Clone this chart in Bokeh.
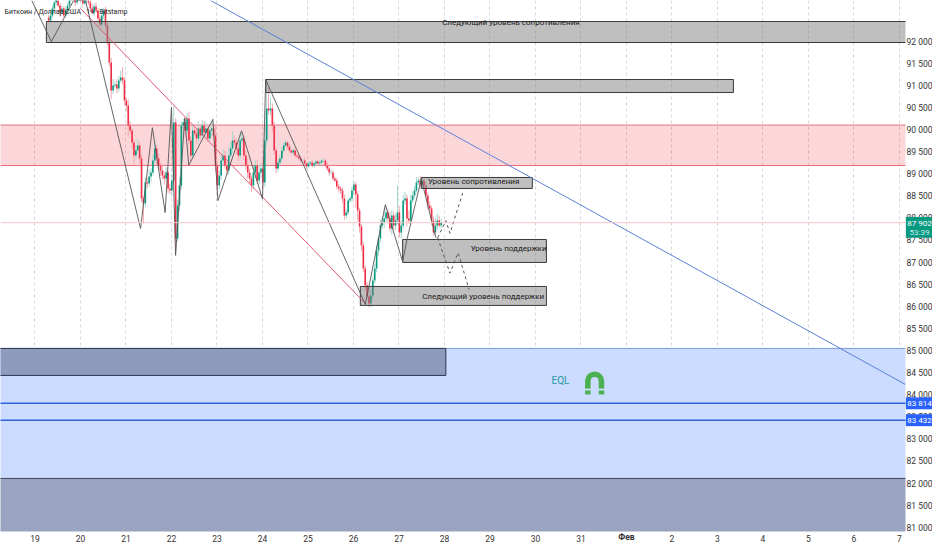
from bokeh.plotting import figure
from bokeh.layouts import column
from bokeh.models import ColumnDataSource, FixedTicker, Label, Span
from bokeh.core.properties import value
from bokeh.embed import file_html
from bokeh.resources import INLINE
import math

TITLE = "Биткоин / Доллар США · 1ч · Bitstamp"
FONT = "Roboto, sans-serif"

# hourly closes of BTC/USD, first bar 19.3 January
closes = [
 92475,92588,92746,92882,92972,92814,92656,92746,92588,92701,92814,93040,93108,93040,92882,92972,93063,92995,92859,92927,93017,92882,92746,92656,
 92791,92701,92520,92384,92588,92701,92362,91977,91525,90891,91004,91027,90936,91117,91185,91117,90665,90552,90100,89986,89715,89421,89534,89647,
 89353,88448,88335,88810,88787,88946,89036,89308,89579,89353,89195,89082,88969,88901,89036,88674,88629,88855,90167,87543,88290,88742,90100,90167,
 89986,90258,89760,89421,89986,89918,89805,90032,89873,90100,89941,90032,89805,89986,90032,89873,89195,88742,88969,89308,89421,89195,89082,89421,
 89579,89760,89715,89579,89421,89760,89805,89421,89195,89036,88901,88742,89036,89195,88855,89036,89127,88810,89760,90484,90439,90484,90100,89534,
 89127,89262,89353,89534,89647,89715,89624,89534,89489,89534,89421,89398,89353,89308,89308,89240,89172,89240,89262,89195,89240,89285,89240,89262,
 89308,89308,89195,89127,89036,89036,88901,88855,88720,88674,88629,88448,88064,88132,88403,88448,88629,88765,88539,88177,87815,87385,86865,86480,
 86232,86073,86254,86594,86865,87272,87543,87838,87905,87996,88131,87996,87769,88064,87838,87951,88131,87679,87838,88403,88448,87996,87951,88403,
 88516,88629,88810,88855,88765,88855,88742,88516,88290,88222,87951,87679,87838,87951,87838,87902,
]
upper_wicks = [
 60,90,70,40,50,80,60,70,50,90,60,70,50,80,60,70,60,90,40,80,50,70,60,90,
 70,100,60,80,120,60,90,70,60,100,150,80,120,100,160,240,90,70,140,100,60,80,120,150,
 70,80,60,120,90,150,100,130,170,80,110,70,150,90,120,60,110,130,380,90,140,180,100,90,
 110,120,160,100,150,110,90,170,80,130,100,150,90,120,170,100,220,90,110,130,150,120,100,180,
 140,210,110,90,120,190,150,80,110,160,90,70,140,120,130,170,110,200,330,630,480,240,120,90,
 70,60,80,90,60,50,40,60,40,50,60,40,40,50,40,60,40,50,40,60,40,50,40,50,
 60,40,50,60,80,60,50,40,60,50,60,70,90,70,60,50,90,80,60,70,60,50,80,60,
 70,140,160,90,110,120,80,140,130,220,120,60,150,110,90,150,610,140,100,120,150,90,180,130,
 90,110,120,70,100,90,60,80,70,90,60,90,180,160,110,90,
]
lower_wicks = [
 40,30,60,50,70,40,90,50,60,40,70,50,40,60,80,50,40,60,70,30,90,50,60,40,
 80,50,70,40,60,90,50,70,100,200,80,60,110,70,50,90,110,130,250,90,140,210,90,70,
 120,80,450,90,110,80,130,70,60,150,80,120,90,140,70,100,80,120,70,340,60,130,90,80,
 150,70,90,140,80,60,120,90,110,70,90,130,80,60,140,90,140,200,80,100,120,70,110,90,
 60,100,90,130,120,80,70,110,90,150,130,140,80,120,70,90,130,140,100,120,90,110,150,80,
 110,70,60,50,60,40,70,50,40,60,50,40,50,60,40,50,60,40,50,40,60,40,50,40,
 60,50,40,60,70,50,60,40,70,90,80,100,100,70,60,50,70,90,300,230,140,120,90,100,
 60,90,80,70,60,90,120,80,70,130,90,120,70,150,90,110,80,120,140,60,90,180,70,100,
 60,70,50,60,90,60,80,70,90,60,110,70,60,90,50,70,
]
first_bar_day = 19.3

# price axis and time axis
price_ticks = [81000 + 500 * k for k in range(23)]
day_ticks = [19,20,21,22,23,24,25,26,27,28,29,30,31,32,33,34,35,36,37,38]
day_labels = ["19","20","21","22","23","24","25","26","27","28","29","30","31","","2","3","4","5","6","7"]

# drawn zones: x from, x to, price top, price bottom
box_left  = [19.25, 24.07, 27.49, 27.08, 26.15]
box_right = [38.5,  34.35, 29.93, 30.24, 30.24]
box_top   = [92452, 91140, 88924, 87521, 86458]
box_bot   = [91978, 90846, 88675, 87001, 86029]
box_text  = ["Следующий уровень сопротивления", "", "Уровень сопротивления", "Уровень поддержки", "Следующий уровень поддержки"]
text_day  = [29.46, 0, 28.64, 29.41, 28.85]
text_price= [92430, 0, 88830, 87310, 86220]

red_zone = (90110, 89195)
blue_zone = (85056, 82115)
dark_low_zone = (82115, 80700)
dark_left_zone = (85056, 84445)
dark_left_end = 28.03
level_prices = [83814, 83432]
last_price = 87902
last_price_box = (88030, 87560)
last_price_text_y = [87883, 87680]
countdown = "53:39"
level_box_half = 135
tag_left, tag_right, tag_mid = 38.14, 38.725, 38.44

blue_line_d = [22.86, 38.13]; blue_line_p = [92927, 84241]
red_line_d = [20.0, 26.26]; red_line_p = [92746, 86073]
zig_d = [18.93,19.36,19.85,20.11,21.32,21.58,21.86,22.0,22.09,22.29,22.38,22.91,23.02,23.54,24.0,24.07,26.26,26.70,27.08,27.18,27.49,27.81]
zig_p = [92927,92000,92927,92927,87770,90050,88130,90510,87160,90270,89200,90240,88400,89980,88440,91140,86050,88310,87020,87540,88890,87560]
dash1_d = [27.85,28.03,28.12,28.40]; dash1_p = [87560,87950,87660,88570]
dash2_d = [27.85,28.12,28.30,28.54]; dash2_p = [87560,86760,87220,86390]

p = figure(frame_width=905, frame_height=531, output_backend="svg", toolbar_location=None,
           x_range=(18.242, 38.132), y_range=(80914, 92928), y_axis_location="right",
           background_fill_color="white", border_fill_color="white", min_border=0,
           min_border_right=27, min_border_bottom=19, outline_line_color=None)

p.ygrid.visible = False
p.xgrid.grid_line_color = "#d5d8de"
p.xgrid.grid_line_dash = "3 3"
p.xgrid.ticker = FixedTicker(ticks=day_ticks)

xa, ya = p.xaxis[0], p.yaxis[0]
xa.ticker = FixedTicker(ticks=day_ticks)
xa.major_label_overrides = dict(zip(day_ticks, day_labels))
ya.ticker = FixedTicker(ticks=price_ticks)
ya.major_label_overrides = {t: f"{t//1000} {t%1000:03d}" for t in price_ticks}
for a in (xa, ya):
    a.axis_line_color = None
    a.major_tick_line_color = None
    a.minor_tick_line_color = None
    a.major_tick_out = 0
    a.major_label_text_font = FONT
    a.major_label_text_font_size = "8.5px"
    a.major_label_text_color = "#333333"
xa.major_label_standoff = 3
ya.major_label_standoff = 1

# bars
rows = {k: [] for k in ["x","o","c","hi","lo","col","wick"]}
prev = closes[0] + 60
for i, c in enumerate(closes):
    o = prev
    rows["x"].append(first_bar_day + i / 24)
    rows["o"].append(o); rows["c"].append(c)
    rows["hi"].append(max(o, c) + upper_wicks[i])
    rows["lo"].append(min(o, c) - lower_wicks[i])
    up = c >= o
    rows["col"].append("#0a9b80" if up else "#ee2f47")
    rows["wick"].append("#a5d8cf" if up else "#f6aab2")
    prev = c
src = ColumnDataSource(rows)

# red zone below bars
p.quad(left=[18], right=[38.5], top=[red_zone[0]], bottom=[red_zone[1]], fill_color="#f23645", fill_alpha=0.2, line_color=None)
for v in red_zone:
    p.segment(x0=[18], x1=[38.5], y0=[v], y1=[v], line_color="#e8727c", line_width=1)
p.segment(x0="x", x1="x", y0="lo", y1="hi", line_color="wick", line_width=1, source=src)
p.vbar(x="x", width=0.036, top="o", bottom="c", fill_color="col", line_color=None, source=src)

# blue area
p.quad(left=[18], right=[38.5], top=[blue_zone[0]], bottom=[blue_zone[1]], fill_color="#cbdcff", line_color=None)
p.segment(x0=[18], x1=[38.5], y0=[blue_zone[0]], y1=[blue_zone[0]], line_color="#7f9be0", line_width=1)
p.quad(left=[18], right=[38.5], top=[dark_low_zone[0]], bottom=[dark_low_zone[1]], fill_color="#9aa3bf", line_color=None)
p.segment(x0=[18], x1=[38.5], y0=[dark_low_zone[0]], y1=[dark_low_zone[0]], line_color="#3d4560", line_width=1)
p.quad(left=[18], right=[dark_left_end], top=[dark_left_zone[0]], bottom=[dark_left_zone[1]], fill_color="#8f9bbc", line_color="#2c3550", line_width=1)

for v in level_prices:
    p.segment(x0=[18], x1=[38.5], y0=[v], y1=[v], line_color="#2d62d8", line_width=1.6)

# gray boxes
p.quad(left=box_left, right=box_right, top=box_top, bottom=box_bot, fill_color="#808080", fill_alpha=0.5, line_color="#3a3a3a", line_width=1)

# current price
p.add_layout(Span(location=last_price, dimension="width", line_color="#f8c6cb", line_width=1))

# trend lines
p.line(blue_line_d, blue_line_p, line_color="#5b80d8", line_width=1)
p.line(red_line_d, red_line_p, line_color="#e05a75", line_width=1)
p.line(zig_d, zig_p, line_color="#555555", line_width=0.9)
p.line(dash1_d, dash1_p, line_color="#555555", line_width=1, line_dash="3 3")
p.line(dash2_d, dash2_p, line_color="#555555", line_width=1, line_dash="3 3")

# box texts
for t, d, pr in zip(box_text, text_day, text_price):
    if t:
        p.text(x=[d], y=[pr], text=[t], text_font=value(FONT), text_font_size="8px", text_color="#1a1a1a",
               text_align="center", text_baseline="middle")

# EQL and magnet
p.text(x=[30.55], y=[84320], text=["EQL"], text_font=value(FONT), text_font_size="10px", text_color="#2a9aa6",
       text_align="center", text_baseline="middle")
mag = "#4caf50"
p.annular_wedge(x=[31.30], y=[84320], inner_radius=4, outer_radius=9.5, inner_radius_units="screen", outer_radius_units="screen",
                start_angle=0, end_angle=math.pi, fill_color=mag, line_color=None)
p.rect(x=[31.15, 31.45], y=[84250, 84250], width=5.5, height=9, width_units="screen", height_units="screen", fill_color=mag, line_color=None)
p.rect(x=[31.15, 31.45], y=[84060, 84060], width=5.5, height=4, width_units="screen", height_units="screen", fill_color=mag, line_color=None)

# title
p.add_layout(Label(x=18.33, y=92679, text=TITLE, text_font=FONT, text_font_size="7px", text_color="#222222", text_baseline="middle"))

# transparent layer over the whole canvas for the tags on the axes
q = figure(frame_width=932, frame_height=550, output_backend="svg", toolbar_location=None,
           x_range=(18.242, 38.725), y_range=(80484, 92928), min_border=0,
           background_fill_color=None, border_fill_color=None, outline_line_color=None,
           margin=(-550, 0, 0, 0))
q.xaxis.visible = False
q.yaxis.visible = False
q.grid.visible = False

q.text(x=[32], y=[80780], text=["Фев"], text_font=value(FONT), text_font_style="bold", text_font_size="8.5px",
       text_color="#333333", text_align="center", text_baseline="middle")
q.quad(left=[tag_left]*2, right=[tag_right]*2, top=[v + level_box_half for v in level_prices],
       bottom=[v - level_box_half for v in level_prices], fill_color="#2962ff", line_color=None)
for v in level_prices:
    q.text(x=[tag_mid], y=[v], text=[f"{v//1000} {v%1000:03d}"], text_font=value(FONT), text_font_size="8px",
           text_color="white", text_align="center", text_baseline="middle")
q.quad(left=[tag_left], right=[tag_right], top=[last_price_box[0]], bottom=[last_price_box[1]], fill_color="#089981", line_color=None)
q.text(x=[tag_mid], y=[last_price_text_y[0]], text=[f"{last_price//1000} {last_price%1000:03d}"], text_font=value(FONT), text_font_size="8px",
       text_color="white", text_align="center", text_baseline="middle")
q.text(x=[tag_mid], y=[last_price_text_y[1]], text=[countdown], text_font=value(FONT), text_font_size="8px",
       text_color="#c9ece6", text_align="center", text_baseline="middle")

root = column(p, q)
root.styles = {"position": "absolute", "left": "0px", "top": "0px"}
open("out.html", "w").write(file_html(root, INLINE))
